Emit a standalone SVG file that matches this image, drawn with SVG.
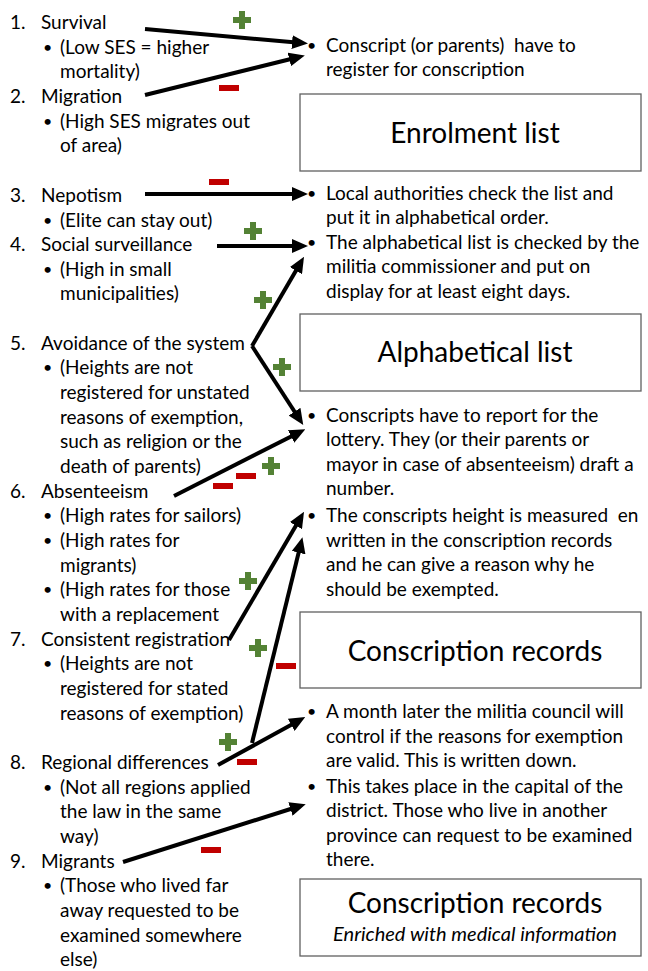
<svg xmlns="http://www.w3.org/2000/svg" width="648" height="971" viewBox="0 0 648 971">
<style>
  text { font-family: Lato, "Open Sans", "Liberation Sans", sans-serif; fill: #000; white-space: pre; }
  .t { font-size: 19px; }
  .b { font-size: 16px; }
  .big { font-size: 28px; }
  .it { font-size: 20px; font-style: italic; }
  .box { fill: #fff; stroke: #606060; stroke-width: 1.3; }
  .arr { stroke: #000; stroke-width: 4; fill: none; marker-end: url(#ah); }
  .plus { fill: #548235; }
  .minus { fill: #C00000; }
</style>
<defs>
  <marker id="ah" viewBox="0 0 16 14" refX="10" refY="7" markerWidth="16" markerHeight="14" markerUnits="userSpaceOnUse" orient="auto">
    <path d="M0,0 L16,7 L0,14 z" fill="#000"/>
  </marker>
  <path id="pl" d="M-3,-9h6v6h6v6h-6v6h-6v-6h-6v-6h6z"/>
  <rect id="mi" x="-10" y="-3" width="20" height="6"/>
</defs>

<g id="left-list">
  <g id="n1"><text class="t" x="10" y="29">1.</text><text class="t" x="41" y="29">Survival</text>
    <text class="b" x="43" y="53">•</text><text class="t" x="60" y="54">(Low SES = higher</text>
    <text class="t" x="60" y="78">mortality)</text></g>
  <g id="n2"><text class="t" x="10" y="103">2.</text><text class="t" x="41" y="103">Migration</text>
    <text class="b" x="43" y="127">•</text><text class="t" x="60" y="128">(High SES migrates out</text>
    <text class="t" x="60" y="152">of area)</text></g>
  <g id="n3"><text class="t" x="10" y="202">3.</text><text class="t" x="41" y="202">Nepotism</text>
    <text class="b" x="43" y="226">•</text><text class="t" x="60" y="227">(Elite can stay out)</text></g>
  <g id="n4"><text class="t" x="10" y="251">4.</text><text class="t" x="41" y="251">Social surveillance</text>
    <text class="b" x="43" y="275">•</text><text class="t" x="60" y="276">(High in small</text>
    <text class="t" x="60" y="300">municipalities)</text></g>
  <g id="n5"><text class="t" x="10" y="350">5.</text><text class="t" x="41" y="350">Avoidance of the system</text>
    <text class="b" x="43" y="373">•</text><text class="t" x="60" y="374">(Heights are not</text>
    <text class="t" x="60" y="399">registered for unstated</text>
    <text class="t" x="60" y="424">reasons of exemption,</text>
    <text class="t" x="60" y="448">such as religion or the</text>
    <text class="t" x="60" y="473">death of parents)</text></g>
  <g id="n6"><text class="t" x="10" y="498">6.</text><text class="t" x="41" y="498">Absenteeism</text>
    <text class="b" x="43" y="521">•</text><text class="t" x="60" y="522">(High rates for sailors)</text>
    <text class="b" x="43" y="546">•</text><text class="t" x="60" y="547">(High rates for</text>
    <text class="t" x="60" y="572">migrants)</text>
    <text class="b" x="43" y="595">•</text><text class="t" x="60" y="596">(High rates for those</text>
    <text class="t" x="60" y="621">with a replacement</text></g>
  <g id="n7"><text class="t" x="10" y="646">7.</text><text class="t" x="41" y="646">Consistent registration</text>
    <text class="b" x="43" y="669">•</text><text class="t" x="60" y="670">(Heights are not</text>
    <text class="t" x="60" y="695">registered for stated</text>
    <text class="t" x="60" y="720">reasons of exemption)</text></g>
  <g id="n8"><text class="t" x="10" y="769">8.</text><text class="t" x="41" y="769">Regional differences</text>
    <text class="b" x="43" y="793">•</text><text class="t" x="60" y="794">(Not all regions applied</text>
    <text class="t" x="60" y="818">the law in the same</text>
    <text class="t" x="60" y="843">way)</text></g>
  <g id="n9"><text class="t" x="10" y="868">9.</text><text class="t" x="41" y="868">Migrants</text>
    <text class="b" x="43" y="891">•</text><text class="t" x="60" y="892">(Those who lived far</text>
    <text class="t" x="60" y="917">away requested to be</text>
    <text class="t" x="60" y="942">examined somewhere</text>
    <text class="t" x="60" y="966">else)</text></g>
</g>

<g id="step-register">
  <text class="b" x="307" y="51">•</text><text class="t" x="326" y="52">Conscript (or parents)  have to</text>
  <text class="t" x="326" y="76">register for conscription</text>
</g>
<g id="box-enrolment">
  <rect class="box" x="300" y="94" width="341" height="77"/>
  <text class="big" x="475" y="143" text-anchor="middle">Enrolment list</text>
</g>
<g id="step-check">
  <text class="b" x="307" y="199">•</text><text class="t" x="326" y="200">Local authorities check the list and</text>
  <text class="t" x="326" y="224">put it in alphabetical order.</text>
</g>
<g id="step-display">
  <text class="b" x="307" y="248">•</text><text class="t" x="326" y="249">The alphabetical list is checked by the</text>
  <text class="t" x="326" y="273">militia commissioner and put on</text>
  <text class="t" x="326" y="298">display for at least eight days.</text>
</g>
<g id="box-alphabetical">
  <rect class="box" x="300" y="314" width="341" height="77"/>
  <text class="big" x="475" y="362" text-anchor="middle">Alphabetical list</text>
</g>
<g id="step-lottery">
  <text class="b" x="307" y="421">•</text><text class="t" x="326" y="422">Conscripts have to report for the</text>
  <text class="t" x="326" y="446">lottery. They (or their parents or</text>
  <text class="t" x="326" y="471">mayor in case of absenteeism) draft a</text>
  <text class="t" x="326" y="495">number.</text>
</g>
<g id="step-measure">
  <text class="b" x="307" y="521">•</text><text class="t" x="326" y="522">The conscripts height is measured  en</text>
  <text class="t" x="326" y="547">written in the conscription records</text>
  <text class="t" x="326" y="571">and he can give a reason why he</text>
  <text class="t" x="326" y="596">should be exempted.</text>
</g>
<g id="box-records">
  <rect class="box" x="300" y="612" width="341" height="76"/>
  <text class="big" x="475" y="661" text-anchor="middle">Conscription records</text>
</g>
<g id="step-council">
  <text class="b" x="307" y="717">•</text><text class="t" x="326" y="718">A month later the militia council will</text>
  <text class="t" x="326" y="743">control if the reasons for exemption</text>
  <text class="t" x="326" y="767">are valid. This is written down.</text>
</g>
<g id="step-capital">
  <text class="b" x="307" y="792">•</text><text class="t" x="326" y="793">This takes place in the capital of the</text>
  <text class="t" x="326" y="817">district. Those who live in another</text>
  <text class="t" x="326" y="842">province can request to be examined</text>
  <text class="t" x="326" y="866">there.</text>
</g>
<g id="box-records-medical">
  <rect class="box" x="300" y="879" width="341" height="77"/>
  <text class="big" x="475" y="913" text-anchor="middle">Conscription records</text>
  <text class="it" x="475" y="941" text-anchor="middle">Enriched with medical information</text>
</g>

<g id="connectors">
  <line class="arr" x1="145" y1="29" x2="302" y2="43"/>
  <line class="arr" x1="145" y1="95" x2="299" y2="57"/>
  <line class="arr" x1="145" y1="194" x2="302" y2="194"/>
  <line class="arr" x1="217" y1="246" x2="302" y2="246"/>
  <line class="arr" x1="252" y1="346" x2="301" y2="262"/>
  <line class="arr" x1="252" y1="346" x2="300" y2="420"/>
  <line class="arr" x1="174" y1="496" x2="300" y2="432"/>
  <line class="arr" x1="229" y1="640" x2="301" y2="517"/>
  <line class="arr" x1="252" y1="743" x2="301" y2="543"/>
  <line class="arr" x1="218" y1="765" x2="300" y2="720"/>
  <line class="arr" x1="123" y1="862" x2="300" y2="806"/>

  <use href="#pl" class="plus" x="242" y="20"/>
  <use href="#mi" class="minus" x="229" y="88"/>
  <use href="#mi" class="minus" x="219" y="182"/>
  <use href="#pl" class="plus" x="253" y="231"/>
  <use href="#pl" class="plus" x="263" y="300"/>
  <use href="#pl" class="plus" x="282" y="367"/>
  <use href="#mi" class="minus" x="223" y="486"/>
  <use href="#mi" class="minus" x="246" y="476"/>
  <use href="#pl" class="plus" x="271" y="466"/>
  <use href="#pl" class="plus" x="248" y="581"/>
  <use href="#pl" class="plus" x="258" y="648"/>
  <use href="#mi" class="minus" x="286" y="666"/>
  <use href="#pl" class="plus" x="228" y="742"/>
  <use href="#mi" class="minus" x="247" y="762"/>
  <use href="#mi" class="minus" x="211" y="850"/>
</g>
</svg>
